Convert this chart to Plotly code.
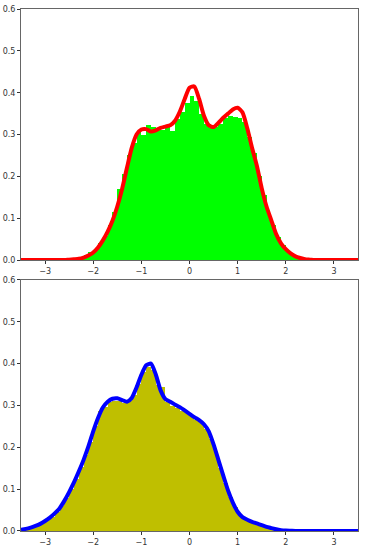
import numpy as np
import plotly.graph_objects as go
from plotly.subplots import make_subplots

# density curves sampled every 0.1 from -3.5 to 3.5
kde_x = np.round(np.arange(-3.5, 3.501, 0.1), 2)

kde_top = [0, 0, 0, 0, 0, 0, 0, 0, 0, 0,
           0.001, 0.002, 0.003, 0.006, 0.011, 0.018, 0.030, 0.047, 0.068, 0.094,
           0.128, 0.170, 0.220, 0.268, 0.300, 0.312, 0.313, 0.307, 0.310, 0.316,
           0.319, 0.322, 0.333, 0.355, 0.385, 0.412, 0.415, 0.385, 0.345, 0.322,
           0.318, 0.328, 0.340, 0.350, 0.360, 0.364, 0.353, 0.315, 0.268, 0.225,
           0.172, 0.128, 0.095, 0.062, 0.040, 0.026, 0.016, 0.009, 0.005, 0.002,
           0.001, 0, 0, 0, 0, 0, 0, 0, 0, 0, 0]

kde_bottom = [0.003, 0.005, 0.008, 0.012, 0.017, 0.024, 0.032, 0.042, 0.054, 0.072,
              0.093, 0.116, 0.142, 0.170, 0.202, 0.238, 0.270, 0.295, 0.309, 0.316,
              0.317, 0.313, 0.309, 0.318, 0.343, 0.373, 0.396, 0.400, 0.374, 0.336,
              0.315, 0.309, 0.302, 0.296, 0.288, 0.280, 0.272, 0.265, 0.255, 0.238,
              0.207, 0.170, 0.133, 0.097, 0.068, 0.046, 0.033, 0.027, 0.022, 0.018,
              0.014, 0.010, 0.007, 0.004, 0.002, 0.001, 0.0005, 0, 0, 0,
              0, 0, 0, 0, 0, 0, 0, 0, 0, 0, 0]

# histogram bins (width 0.1)
hist_top_x = np.round(np.arange(-2.25, 2.251, 0.1), 2)
hist_top = [0.006, 0.012, 0.020, 0.025, 0.040, 0.058, 0.083, 0.115, 0.170, 0.205,
            0.250, 0.280, 0.305, 0.300, 0.322, 0.318, 0.312, 0.310, 0.320, 0.308,
            0.338, 0.355, 0.375, 0.392, 0.380, 0.350, 0.325, 0.315, 0.318, 0.325,
            0.340, 0.345, 0.342, 0.340, 0.330, 0.295, 0.255, 0.200, 0.155, 0.110,
            0.085, 0.055, 0.035, 0.022, 0.012, 0.005]

hist_bottom_x = np.round(np.arange(-3.45, 1.951, 0.1), 2)
hist_bottom = [0.003, 0.006, 0.009, 0.013, 0.019, 0.026, 0.034, 0.046, 0.060, 0.080,
               0.100, 0.125, 0.152, 0.182, 0.212, 0.252, 0.287, 0.296, 0.308, 0.312,
               0.310, 0.305, 0.310, 0.326, 0.352, 0.380, 0.392, 0.385, 0.350, 0.345,
               0.308, 0.300, 0.295, 0.288, 0.282, 0.275, 0.265, 0.258, 0.245, 0.220,
               0.190, 0.150, 0.115, 0.082, 0.058, 0.040, 0.030, 0.024, 0.020, 0.016,
               0.012, 0.008, 0.005, 0.003, 0.001]

fig = make_subplots(rows=2, cols=1, vertical_spacing=0.038)

fig.add_trace(go.Bar(x=hist_top_x, y=hist_top, width=0.1,
                     marker=dict(color="#00ff00", line=dict(width=0))), row=1, col=1)
fig.add_trace(go.Scatter(x=kde_x, y=kde_top, mode="lines",
                         line=dict(color="#ff0000", width=4, shape="spline", smoothing=0.6)),
              row=1, col=1)
fig.add_trace(go.Bar(x=hist_bottom_x, y=hist_bottom, width=0.1,
                     marker=dict(color="#bfbf00", line=dict(width=0))), row=2, col=1)
fig.add_trace(go.Scatter(x=kde_x, y=kde_bottom, mode="lines",
                         line=dict(color="#0000ff", width=4, shape="spline", smoothing=0.6)),
              row=2, col=1)

axis_style = dict(showgrid=False, zeroline=False, showline=True, mirror=True,
                  linecolor="#666666", linewidth=1, ticks="outside", ticklen=3,
                  tickcolor="#333333", tickfont=dict(size=8, color="#333333"),
                  automargin=False)

for r in (1, 2):
    fig.update_xaxes(range=[-3.5, 3.5], tickvals=[-3, -2, -1, 0, 1, 2, 3],
                     row=r, col=1, **axis_style)
    fig.update_yaxes(range=[0, 0.6], tickvals=[0, 0.1, 0.2, 0.3, 0.4, 0.5, 0.6],
                     tickformat=".1f", row=r, col=1, **axis_style)

fig.update_layout(
    width=366, height=549,
    margin=dict(l=21, r=8, t=9, b=18),
    plot_bgcolor="white", paper_bgcolor="white",
    showlegend=False, bargap=0,
    font=dict(family="DejaVu Sans"),
)

# drop the browser's default body margin so the figure sits at the top-left
fig.write_html("out.html", config={"displayModeBar": False},
               post_script="document.body.style.margin='0';")
